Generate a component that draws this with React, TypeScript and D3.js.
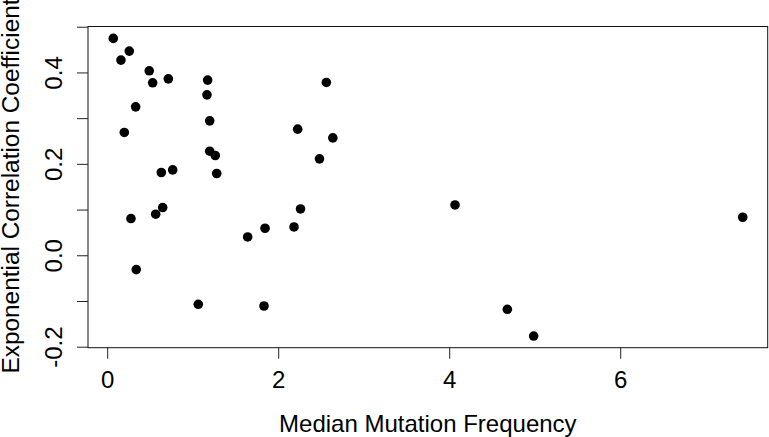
import React, { useEffect, useRef } from 'react'
import { axisBottom, axisLeft, scaleLinear, select } from 'd3'

// median mutation frequency (x) vs exponential correlation coefficient (y)
const mutFreq = [
  0.071, 0.258, 0.161, 0.492, 0.532, 0.715, 1.175, 1.167, 0.333, 1.199,
  2.228, 2.563, 2.639, 2.483, 0.200, 1.199, 1.264, 0.633, 0.766, 1.281,
  0.278, 0.567, 0.649, 0.340, 1.643, 1.846, 2.185, 2.261, 1.065, 1.834,
  4.068, 4.680, 4.988, 7.433,
]
const corrCoef = [
  0.4745, 0.4467, 0.427, 0.4036, 0.3773, 0.386, 0.3832, 0.351, 0.3247, 0.2941,
  0.2759, 0.3781, 0.2568, 0.2109, 0.2687, 0.2277, 0.2183, 0.1811, 0.1868, 0.1789,
  0.0804, 0.0898, 0.1044, -0.0313, 0.0401, 0.0591, 0.062, 0.1014, -0.1073, -0.111,
  0.1101, -0.1182, -0.1767, 0.0832,
]
const xTicks = [0, 2, 4, 6]
const yTicks = [-0.2, -0.1, 0, 0.1, 0.2, 0.3, 0.4, 0.5]
const yLabelled = [-0.2, 0, 0.2, 0.4]

const W = 769
const H = 437
const box = { left: 88, right: 767.7, top: 26.5, bottom: 347.7 }
const font = '"Liberation Sans", Arial, Helvetica, sans-serif'

const App = () => {
  const xRef = useRef<SVGGElement>(null)
  const yRef = useRef<SVGGElement>(null)

  const xScale = scaleLinear().domain([-0.2245, 7.725]).range([box.left, box.right])
  const yScale = scaleLinear().domain([-0.2022, 0.5005]).range([box.bottom, box.top])

  useEffect(() => {
    const xAxis = axisBottom(xScale).tickValues(xTicks).tickSize(11).tickSizeOuter(0).tickFormat(d => String(d))
    const gx = select(xRef.current).call(xAxis)
    gx.select('.domain').remove()
    gx.selectAll('line').attr('stroke', '#222')
    gx.selectAll('text')
      .attr('y', 40).attr('dy', 0)
      .attr('fill', '#000').style('font-size', '24px').style('font-family', font)

    const yAxis = axisLeft(yScale).tickValues(yTicks).tickSize(11).tickSizeOuter(0)
      .tickFormat(d => (yLabelled.some(v => Math.abs(v - +d) < 1e-9) ? (+d).toFixed(1) : ''))
    const gy = select(yRef.current).call(yAxis)
    gy.select('.domain').remove()
    gy.selectAll('line').attr('stroke', '#222')
    gy.selectAll('text')
      .attr('x', 0).attr('y', -25.7).attr('dy', 0)
      .attr('transform', 'rotate(-90)')
      .attr('text-anchor', 'middle')
      .attr('fill', '#000').style('font-size', '24px').style('font-family', font)
  }, [])

  return (
    <svg width={W} height={H} style={{ position: 'absolute', left: 0, top: 0, background: '#fff' }}>
      <rect x={box.left} y={box.top} width={box.right - box.left} height={box.bottom - box.top}
        fill='none' stroke='#111' strokeWidth='1' />
      <g ref={xRef} transform={`translate(0, ${box.bottom})`} />
      <g ref={yRef} transform={`translate(${box.left}, 0)`} />
      {mutFreq.map((d, i) => (
        <circle key={i} cx={xScale(d)} cy={yScale(corrCoef[i])} r={4.8} fill='#000' />
      ))}
      <text x={(box.left + box.right) / 2} y={431.7} textAnchor='middle'
        style={{ fontSize: '24px', fontFamily: font }}>Median Mutation Frequency</text>
      <text transform={`translate(18.5, 186) rotate(-90)`} textAnchor='middle'
        style={{ fontSize: '24.4px', fontFamily: font }}>Exponential Correlation Coefficient</text>
    </svg>
  )
}

export default App
